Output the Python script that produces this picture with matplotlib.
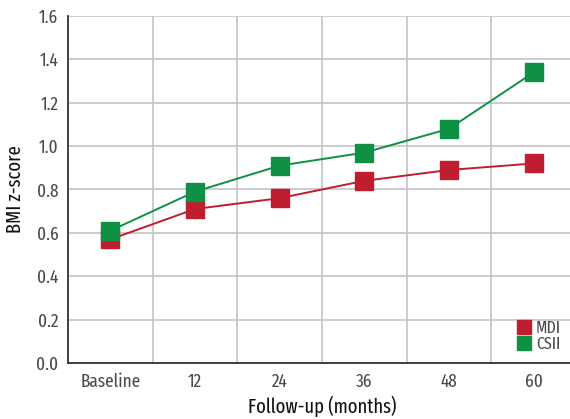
import matplotlib
matplotlib.use("Agg")
import matplotlib.pyplot as plt
from matplotlib.lines import Line2D

categories = ["Baseline", "12", "24", "36", "48", "60"]
mdi = [0.57, 0.71, 0.76, 0.84, 0.89, 0.92]
csii = [0.61, 0.79, 0.91, 0.97, 1.08, 1.34]
yticks = [0.0, 0.2, 0.4, 0.6, 0.8, 1.0, 1.2, 1.4, 1.6]

RED = "#be1e2d"
GREEN = "#0e9144"
FONT = ["Fira Sans Extra Condensed", "PT Sans Narrow", "Roboto Condensed", "DejaVu Sans"]
plt.rcParams["font.family"] = FONT

fig = plt.figure(figsize=(5.70, 4.19), dpi=100)
ax = fig.add_axes([68/570, 56/419, (576-68)/570, 347/419])

x = list(range(len(categories)))
ax.plot(x, mdi, color=RED, lw=1.4, marker="s", ms=12.5, mec=RED, mfc=RED, zorder=3, label="MDI")
ax.plot(x, csii, color=GREEN, lw=1.4, marker="s", ms=12.5, mec=GREEN, mfc=GREEN, zorder=4, label="CSII")

ax.set_xlim(-0.5, 5.5)
ax.set_ylim(0, 1.6)
ax.set_yticks(yticks)
ax.set_yticklabels([f"{v:.1f}" for v in yticks])
ax.set_xticks(x)
ax.set_xticklabels(categories)
ax.set_xticks([i + 0.5 for i in x[:-1]], minor=True)
ax.grid(False)
ax.yaxis.grid(True, color="#c4c4c4", lw=1.2)
ax.xaxis.grid(True, which="minor", color="#c4c4c4", lw=1.2)
ax.set_axisbelow(True)
ax.tick_params(axis="both", which="both", length=0, labelsize=13.5, labelcolor="#4a4a4a", pad=7)
for s in ["top", "right"]:
    ax.spines[s].set_visible(False)
for s in ["left", "bottom"]:
    ax.spines[s].set_color("#333333")
    ax.spines[s].set_linewidth(1.3)

ax.set_xlabel("Follow-up (months)", fontsize=14.5, color="#111111", labelpad=4)
ax.set_ylabel("BMI z-score", fontsize=14.5, color="#111111", labelpad=8)

handles = [Line2D([], [], ls="none", marker="s", ms=10, color=RED),
           Line2D([], [], ls="none", marker="s", ms=10, color=GREEN)]
leg = fig.legend(handles, ["MDI", "CSII"], loc="lower left", bbox_to_anchor=(508/570, 58/419),
                 frameon=False, fontsize=12.5, handlelength=0.8, handletextpad=0.3,
                 labelspacing=0.0, borderpad=0, labelcolor="#4a4a4a")

fig.savefig("out.png", dpi=100)
